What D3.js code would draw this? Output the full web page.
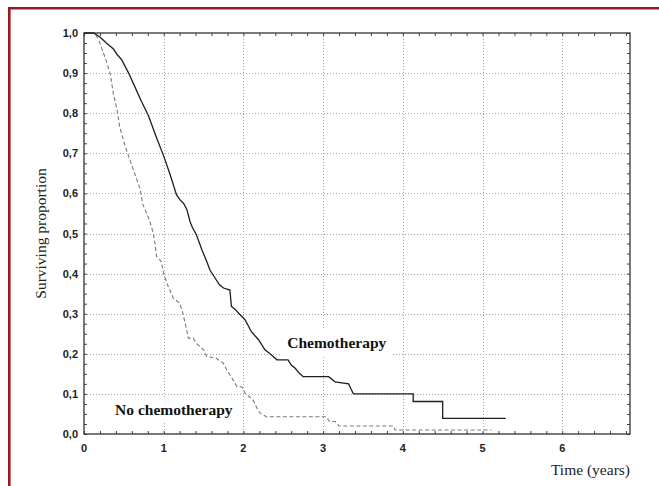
<!DOCTYPE html>
<html>
<head>
<meta charset="utf-8">
<script src="https://cdn.jsdelivr.net/npm/d3@7"></script>
<style>
  html, body { margin: 0; padding: 0; background: #fff; }
  svg { display: block; }
</style>
</head>
<body>
<svg id="chart" width="659" height="486"></svg>
<script>
// ---- Data ----
const xTicks = [0, 1, 2, 3, 4, 5, 6];
const yTicks = [0, 0.1, 0.2, 0.3, 0.4, 0.5, 0.6, 0.7, 0.8, 0.9, 1.0];

const chemoTime = [0, 0.12, 0.2, 0.28, 0.37, 0.42, 0.47, 0.56, 0.64, 0.72, 0.81, 0.91, 1.0, 1.08, 1.16, 1.20, 1.25, 1.29, 1.33, 1.36, 1.41, 1.48, 1.54, 1.58, 1.66, 1.70, 1.75, 1.83, 1.85, 1.90, 1.94, 2.02, 2.10, 2.19, 2.27, 2.33, 2.42, 2.56, 2.60, 2.65, 2.70, 2.75, 3.07, 3.15, 3.32, 3.35, 3.38, 4.13, 4.13, 4.50, 4.50, 5.29];
const chemoSurv = [1.0, 1.0, 0.99, 0.975, 0.96, 0.945, 0.934, 0.90, 0.865, 0.83, 0.793, 0.739, 0.693, 0.647, 0.597, 0.585, 0.575, 0.56, 0.53, 0.515, 0.497, 0.459, 0.43, 0.409, 0.384, 0.372, 0.364, 0.359, 0.318, 0.31, 0.301, 0.285, 0.255, 0.235, 0.21, 0.201, 0.185, 0.185, 0.172, 0.164, 0.152, 0.143, 0.143, 0.13, 0.125, 0.112, 0.10, 0.10, 0.081, 0.081, 0.039, 0.039];

const noChemoTime = [0, 0.13, 0.18, 0.22, 0.28, 0.33, 0.37, 0.41, 0.45, 0.51, 0.58, 0.64, 0.70, 0.74, 0.81, 0.85, 0.87, 0.89, 0.91, 0.97, 1.0, 1.04, 1.12, 1.20, 1.23, 1.27, 1.31, 1.37, 1.41, 1.50, 1.54, 1.66, 1.75, 1.79, 1.87, 1.92, 1.98, 2.02, 2.12, 2.17, 2.21, 2.29, 3.04, 3.08, 3.15, 3.20, 3.88, 3.90, 5.11];
const noChemoSurv = [1.0, 1.0, 0.985, 0.963, 0.93, 0.897, 0.847, 0.813, 0.764, 0.722, 0.681, 0.647, 0.614, 0.572, 0.539, 0.514, 0.50, 0.476, 0.443, 0.43, 0.40, 0.376, 0.339, 0.326, 0.309, 0.276, 0.239, 0.239, 0.226, 0.21, 0.193, 0.189, 0.176, 0.16, 0.135, 0.118, 0.118, 0.102, 0.085, 0.064, 0.052, 0.043, 0.043, 0.031, 0.031, 0.02, 0.02, 0.01, 0.01];

const labelChemo = "Chemotherapy";
const labelNoChemo = "No chemotherapy";
const xTitle = "Time (years)";
const yTitle = "Surviving proportion";

// ---- Layout ----
const svg = d3.select("#chart");
const W = 659, H = 486;
const plot = { left: 84, top: 33, right: 630, bottom: 434 };

svg.append("rect").attr("width", W).attr("height", H).attr("fill", "#fff");

// outer dark-red frame (top and left visible)
svg.append("path")
  .attr("d", `M9.3,${H} V8.2 H${W}`)
  .attr("fill", "none").attr("stroke", "#9f1720").attr("stroke-width", 2.6);

const x = d3.scaleLinear().domain([0, 6.85]).range([plot.left, plot.right]);
const y = d3.scaleLinear().domain([0, 1]).range([plot.bottom, plot.top]);

// grid
const grid = svg.append("g").attr("stroke", "#a8a8a8").attr("stroke-width", 1)
  .attr("stroke-dasharray", "1,2");
xTicks.filter(d => d > 0).forEach(d => {
  grid.append("line").attr("x1", Math.round(x(d)) + 0.5).attr("x2", Math.round(x(d)) + 0.5)
    .attr("y1", plot.top).attr("y2", plot.bottom);
});
yTicks.filter(d => d > 0 && d < 1).forEach(d => {
  grid.append("line").attr("y1", Math.round(y(d)) + 0.5).attr("y2", Math.round(y(d)) + 0.5)
    .attr("x1", plot.left).attr("x2", plot.right);
});

// axes with inward ticks on all four sides
const xMinor = d3.range(0, 6.85, 0.2);
const yMinor = d3.range(0, 1.0001, 0.025);
const fmt = d => d3.format(".1f")(d).replace(".", ",");

const axB = svg.append("g").attr("transform", `translate(0,${plot.bottom})`)
  .call(d3.axisBottom(x).tickValues(xMinor).tickSize(-3).tickFormat(""));
const axT = svg.append("g").attr("transform", `translate(0,${plot.top})`)
  .call(d3.axisTop(x).tickValues(xMinor).tickSize(-3).tickFormat(""));
const axL = svg.append("g").attr("transform", `translate(${plot.left},0)`)
  .call(d3.axisLeft(y).tickValues(yMinor).tickSize(-3).tickFormat(""));
const axR = svg.append("g").attr("transform", `translate(${plot.right},0)`)
  .call(d3.axisRight(y).tickValues(yMinor).tickSize(-3).tickFormat(""));
[axB, axT, axL, axR].forEach(a => {
  a.select(".domain").remove();
  a.selectAll("line").attr("stroke", "#444");
});

// frame
svg.append("rect")
  .attr("x", plot.left).attr("y", plot.top)
  .attr("width", plot.right - plot.left).attr("height", plot.bottom - plot.top)
  .attr("fill", "none").attr("stroke", "#333").attr("stroke-width", 1.3);

// tick labels
svg.append("g").selectAll("text").data(xTicks).join("text")
  .attr("x", d => x(d)).attr("y", plot.bottom + 18)
  .attr("text-anchor", "middle")
  .attr("font-family", "Liberation Sans, Arial, sans-serif")
  .attr("font-weight", "bold").attr("font-size", 11).attr("fill", "#222")
  .text(d => d);
svg.append("g").selectAll("text").data(yTicks).join("text")
  .attr("x", plot.left - 6).attr("y", d => y(d) + 4)
  .attr("text-anchor", "end")
  .attr("font-family", "Liberation Sans, Arial, sans-serif")
  .attr("font-weight", "bold").attr("font-size", 11).attr("fill", "#222")
  .text(d => fmt(d));

// axis titles
svg.append("text")
  .attr("transform", `translate(46,${(plot.top + plot.bottom) / 2}) rotate(-90)`)
  .attr("text-anchor", "middle")
  .attr("font-family", "Liberation Serif, Times New Roman, serif")
  .attr("font-size", 15.5).attr("fill", "#222")
  .text(yTitle);
svg.append("text")
  .attr("x", plot.right).attr("y", 475)
  .attr("text-anchor", "end")
  .attr("font-family", "Liberation Serif, Times New Roman, serif")
  .attr("font-size", 15.5).attr("fill", "#222")
  .text(xTitle);

// curves
const line = d3.line().x(d => x(d[0])).y(d => y(d[1])).curve(d3.curveLinear);
const chemo = chemoTime.map((t, i) => [t, chemoSurv[i]]);
const noChemo = noChemoTime.map((t, i) => [t, noChemoSurv[i]]);

svg.append("path").datum(noChemo).attr("d", line)
  .attr("fill", "none").attr("stroke", "#7a7a7a").attr("stroke-width", 1.1)
  .attr("stroke-dasharray", "4,2.5");
svg.append("path").datum(chemo).attr("d", line)
  .attr("fill", "none").attr("stroke", "#1e1e1e").attr("stroke-width", 1.3);

// labels with white backgrounds
function label(txt, cx, by, padX, padY) {
  const g = svg.append("g");
  const bg = g.append("rect").attr("fill", "#fff");
  const t = g.append("text")
    .attr("x", cx).attr("y", by).attr("text-anchor", "start")
    .attr("font-family", "Liberation Serif, Times New Roman, serif")
    .attr("font-weight", "bold").attr("font-size", 15.5).attr("fill", "#111")
    .text(txt);
  const b = t.node().getBBox();
  bg.attr("x", b.x - padX).attr("y", b.y - padY)
    .attr("width", b.width + 2 * padX).attr("height", b.height + 2 * padY);
}
label(labelChemo, x(2.55), y(0.2143), 6, 4);
label(labelNoChemo, x(0.39), y(0.0474), 3, 3);
</script>
</body>
</html>
